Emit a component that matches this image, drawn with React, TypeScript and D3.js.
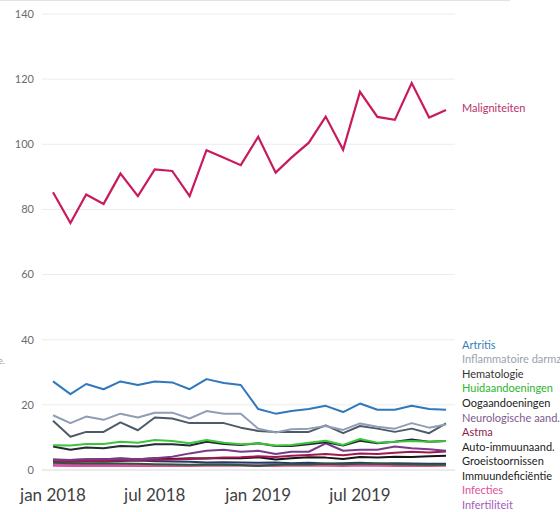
import * as d3 from "d3";

const W = 560;
const H = 512;

// months jan 2018 .. dec 2019
const months = [
  "2018-01", "2018-02", "2018-03", "2018-04", "2018-05", "2018-06",
  "2018-07", "2018-08", "2018-09", "2018-10", "2018-11", "2018-12",
  "2019-01", "2019-02", "2019-03", "2019-04", "2019-05", "2019-06",
  "2019-07", "2019-08", "2019-09", "2019-10", "2019-11", "2019-12",
];

const yTicks = [0, 20, 40, 60, 80, 100, 120, 140];
const xTickMonths = ["2018-01", "2018-07", "2019-01", "2019-07"];
const monthNames = ["jan", "feb", "mrt", "apr", "mei", "jun", "jul", "aug", "sep", "okt", "nov", "dec"];

const maligniteiten = [85.3, 75.8, 84.6, 81.7, 91.0, 84.1, 92.3, 91.8, 84.1, 98.2, 95.9, 93.6, 102.3, 91.3, 95.9, 100.5, 108.5, 98.3, 116.1, 108.4, 107.5, 118.8, 108.2, 110.5];
const artritis = [27.2, 23.3, 26.4, 24.8, 27.2, 26.1, 27.2, 26.9, 24.8, 27.9, 26.7, 26.1, 18.7, 17.3, 18.1, 18.7, 19.7, 17.8, 20.4, 18.5, 18.5, 19.7, 18.7, 18.5];
const inflammatoire = [16.8, 14.4, 16.4, 15.4, 17.3, 16.1, 17.6, 17.6, 15.8, 18.1, 17.3, 17.3, 12.7, 11.5, 12.5, 12.7, 13.5, 12.3, 14.3, 13.3, 12.7, 14.4, 13.0, 14.0];
const hematologie = [15.1, 10.2, 11.7, 11.7, 14.6, 12.2, 16.1, 15.8, 14.4, 14.4, 14.4, 13.0, 12.0, 11.7, 11.7, 11.7, 13.7, 11.3, 13.5, 12.7, 11.7, 12.7, 11.3, 14.3];
const huid = [7.6, 7.5, 8.0, 8.0, 8.7, 8.4, 9.2, 8.9, 8.2, 9.2, 8.4, 7.9, 8.2, 7.5, 7.7, 8.4, 9.0, 7.7, 9.5, 8.4, 8.7, 8.9, 8.7, 8.9];
const oog = [7.2, 6.2, 6.9, 6.7, 7.4, 7.2, 7.9, 7.9, 7.5, 8.7, 8.0, 7.7, 8.2, 7.4, 7.4, 7.9, 8.5, 7.5, 9.0, 8.2, 8.7, 9.4, 8.7, 8.9];
const neuro = [3.1, 3.1, 3.3, 3.3, 3.5, 3.3, 3.6, 4.1, 5.1, 5.9, 6.2, 5.6, 5.9, 4.9, 5.6, 5.6, 8.2, 5.9, 6.2, 6.2, 7.2, 6.7, 6.4, 5.9];
const astma = [2.8, 2.6, 2.7, 2.8, 3.0, 3.0, 3.1, 3.2, 3.4, 3.6, 3.8, 3.9, 4.2, 4.0, 4.4, 4.6, 4.9, 4.5, 5.1, 4.9, 5.3, 5.6, 5.4, 5.7];
const autoImmuun = [3.2, 3.1, 3.2, 3.3, 3.5, 3.3, 3.6, 3.4, 3.6, 3.5, 3.7, 3.6, 3.9, 3.2, 3.6, 3.9, 3.8, 3.4, 4.0, 3.8, 4.1, 4.0, 4.2, 4.4];
const groei = [2.2, 2.1, 2.0, 2.1, 2.0, 1.9, 1.8, 1.7, 1.6, 1.7, 1.6, 1.5, 1.2, 1.6, 1.8, 1.7, 1.9, 1.8, 1.9, 2.0, 1.8, 1.7, 1.6, 1.6];
const immuun = [2.6, 2.5, 2.7, 2.6, 2.8, 2.9, 2.7, 2.6, 2.5, 2.3, 2.4, 2.3, 2.2, 2.3, 2.1, 2.2, 2.0, 2.1, 2.2, 2.0, 2.1, 2.0, 1.9, 1.9];
const infecties = [1.3, 1.2, 1.3, 1.2, 1.3, 1.2, 1.2, 1.3, 1.2, 1.3, 1.4, 1.3, 1.3, 1.2, 1.4, 1.3, 1.3, 1.2, 1.4, 1.3, 1.2, 1.3, 1.2, 1.3];
const infertiliteit = [1.8, 1.7, 1.6, 1.7, 1.6, 1.6, 1.5, 1.6, 1.5, 1.6, 1.7, 1.6, 1.5, 1.5, 1.6, 1.5, 1.6, 1.5, 1.5, 1.6, 1.5, 1.4, 1.5, 1.5];

// drawing order: bottom lines first, so top-ish ones overlay
const series = [
  { name: "Infertiliteit", values: infertiliteit, color: "#b35cc5", text: "#a65cb8" },
  { name: "Infecties", values: infecties, color: "#e0509a", text: "#e0509a" },
  { name: "Immuundeficiëntie", values: immuun, color: "#243a66", text: "#222222" },
  { name: "Groeistoornissen", values: groei, color: "#2b5a3a", text: "#222222" },
  { name: "Auto-immuunaand.", values: autoImmuun, color: "#151515", text: "#222222" },
  { name: "Astma", values: astma, color: "#a3174f", text: "#8e1b4a" },
  { name: "Neurologische aand.", values: neuro, color: "#7a3a8c", text: "#7d5a8c" },
  { name: "Oogaandoeningen", values: oog, color: "#262b33", text: "#222222" },
  { name: "Huidaandoeningen", values: huid, color: "#3cc43c", text: "#2cb52c" },
  { name: "Hematologie", values: hematologie, color: "#4f5a68", text: "#333333" },
  { name: "Inflammatoire darmz", values: inflammatoire, color: "#8f9db5", text: "#9aa2ae" },
  { name: "Artritis", values: artritis, color: "#2f78bd", text: "#3a7db8" },
];

const legendOrder = [
  "Artritis", "Inflammatoire darmz", "Hematologie", "Huidaandoeningen",
  "Oogaandoeningen", "Neurologische aand.", "Astma", "Auto-immuunaand.",
  "Groeistoornissen", "Immuundeficiëntie", "Infecties", "Infertiliteit",
];

const parse = d3.timeParse("%Y-%m");
const dates = months.map((m) => parse(m) as Date);

const x = d3.scaleTime().domain([dates[0], dates[dates.length - 1]]).range([53, 446]);
const y = d3.scaleLinear().domain([0, 140]).range([470, 14]);

const line = d3
  .line<number>()
  .x((_, i) => x(dates[i]))
  .y((d) => y(d));

const fmtMonth = (s: string) => {
  const d = parse(s) as Date;
  return `${monthNames[d.getMonth()]} ${d.getFullYear()}`;
};

const legendY = d3.scalePoint<string>().domain(legendOrder).range([345, 505]);

export default function App() {
  return (
    <svg
      width={W}
      height={H}
      style={{ position: "absolute", left: 0, top: 0, background: "#fff" }}
      fontFamily="Lato, 'Open Sans', sans-serif"
    >
      <line x1={0} x2={510} y1={0.5} y2={0.5} stroke="#e2e2e2" strokeWidth={1} />

      {yTicks.map((t) => (
        <g key={t}>
          <line x1={42} x2={455} y1={y(t)} y2={y(t)} stroke={t === 0 ? "#d9d9d9" : "#ececec"} strokeWidth={1} />
          <text x={34} y={y(t)} dy="0.35em" textAnchor="end" fontSize={11} fill="#6b6b6b">
            {t}
          </text>
        </g>
      ))}

      {xTickMonths.map((m) => (
        <text
          key={m}
          x={x(parse(m) as Date)}
          y={501}
          textAnchor="middle"
          fontSize={17}
          fill="#3f3f3f"
        >
          {fmtMonth(m)}
        </text>
      ))}

      {series.map((s) => (
        <path
          key={s.name}
          d={line(s.values) || ""}
          fill="none"
          stroke={s.color}
          strokeWidth={2}
          strokeLinejoin="round"
        />
      ))}

      <path
        d={line(maligniteiten) || ""}
        fill="none"
        stroke="#c9195f"
        strokeWidth={2.2}
        strokeLinejoin="miter"
      />
      <text x={462} y={108} dy="0.35em" fontSize={11} fill="#b8306a">
        Maligniteiten
      </text>

      {legendOrder.map((name) => {
        const s = series.find((d) => d.name === name)!;
        return (
          <text key={name} x={462} y={legendY(name)} dy="0.35em" fontSize={11} fill={s.text}>
            {name}
          </text>
        );
      })}

      <text x={-2} y={361} dy="0.35em" fontSize={9} fill="#9a9a9a">
        e.
      </text>
    </svg>
  );
}
